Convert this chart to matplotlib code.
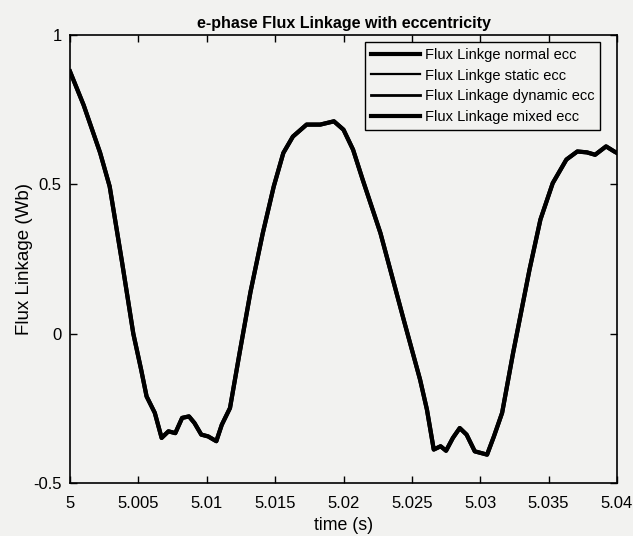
import matplotlib
matplotlib.use("Agg")
import matplotlib.pyplot as plt

# e-phase flux linkage samples (time in s, flux in Wb)
time_s = [5.0000, 5.0010, 5.0022, 5.0029, 5.0038, 5.00463, 5.0052, 5.0056, 5.0062,
          5.0067, 5.0072, 5.0077, 5.0082, 5.0087, 5.0091, 5.0096, 5.0101, 5.0107,
          5.0111, 5.0117, 5.0124, 5.0132, 5.0141, 5.0149, 5.0156, 5.0163, 5.0173,
          5.0183, 5.0193, 5.0200, 5.0207, 5.0214, 5.0227, 5.0244, 5.0256, 5.0261,
          5.0266, 5.0271, 5.0275, 5.0280, 5.0285, 5.0290, 5.0296, 5.0305, 5.0310,
          5.0316, 5.0324, 5.0336, 5.0344, 5.0353, 5.0363, 5.0371, 5.0378, 5.0384,
          5.0392, 5.0398, 5.0400]
flux_wb = [0.878, 0.765, 0.606, 0.493, 0.241, 0.000, -0.120, -0.210, -0.265,
           -0.349, -0.327, -0.333, -0.282, -0.277, -0.299, -0.338, -0.344, -0.360,
           -0.305, -0.249, -0.065, 0.140, 0.337, 0.493, 0.605, 0.660, 0.700,
           0.700, 0.711, 0.683, 0.616, 0.516, 0.337, 0.047, -0.154, -0.254,
           -0.388, -0.377, -0.392, -0.349, -0.316, -0.338, -0.394, -0.405, -0.344,
           -0.265, -0.065, 0.214, 0.382, 0.504, 0.583, 0.610, 0.607, 0.599,
           0.627, 0.610, 0.605]

series_labels = ["Flux Linkge normal ecc", "Flux Linkge static ecc",
                 "Flux Linkage dynamic ecc", "Flux Linkage mixed ecc"]
series_widths = [3.0, 1.6, 2.0, 3.0]

xticks = [5, 5.005, 5.01, 5.015, 5.02, 5.025, 5.03, 5.035, 5.04]
xtick_labels = ["5", "5.005", "5.01", "5.015", "5.02", "5.025", "5.03", "5.035", "5.04"]
yticks = [-0.5, 0, 0.5, 1]
ytick_labels = ["-0.5", "0", "0.5", "1"]

plt.rcParams["font.family"] = ["Liberation Sans", "DejaVu Sans"]

fig = plt.figure(figsize=(6.33, 5.36), dpi=100)
bg = "#f2f2f0"
fig.patch.set_facecolor(bg)
ax = fig.add_axes([70 / 633, 1 - 483 / 536, (617 - 70) / 633, (483 - 35) / 536])
ax.set_facecolor(bg)

# all four cases overlap on the same curve
for lab, lw in zip(series_labels, series_widths):
    ax.plot(time_s, flux_wb, color="black", lw=lw, label=lab)

ax.set_xlim(5, 5.04)
ax.set_ylim(-0.5, 1)
ax.set_xticks(xticks)
ax.set_xticklabels(xtick_labels)
ax.set_yticks(yticks)
ax.set_yticklabels(ytick_labels)
ax.tick_params(direction="in", top=True, right=True, labelsize=12, length=5, width=1)
ax.tick_params(axis="x", pad=9)
ax.tick_params(axis="y", pad=6)
for s in ax.spines.values():
    s.set_linewidth(1.2)

ax.set_title("e-phase Flux Linkage with eccentricity", fontsize=11.5, fontweight="bold", pad=5)
ax.set_xlabel("time (s)", fontsize=12.8, labelpad=5)
ax.set_ylabel("Flux Linkage (Wb)", fontsize=13.5, labelpad=0)

leg = ax.legend(loc="upper right", fontsize=10.5, frameon=True, fancybox=False,
                edgecolor="black", facecolor=bg, framealpha=1, handlelength=3.4,
                handletextpad=0.3, borderaxespad=0, borderpad=0.4, labelspacing=0.46,
                bbox_to_anchor=((600 - 70) / 547, 1 - (42 - 35) / 448))
leg.get_frame().set_linewidth(1.0)

fig.savefig("out.png", dpi=100, facecolor=bg)
